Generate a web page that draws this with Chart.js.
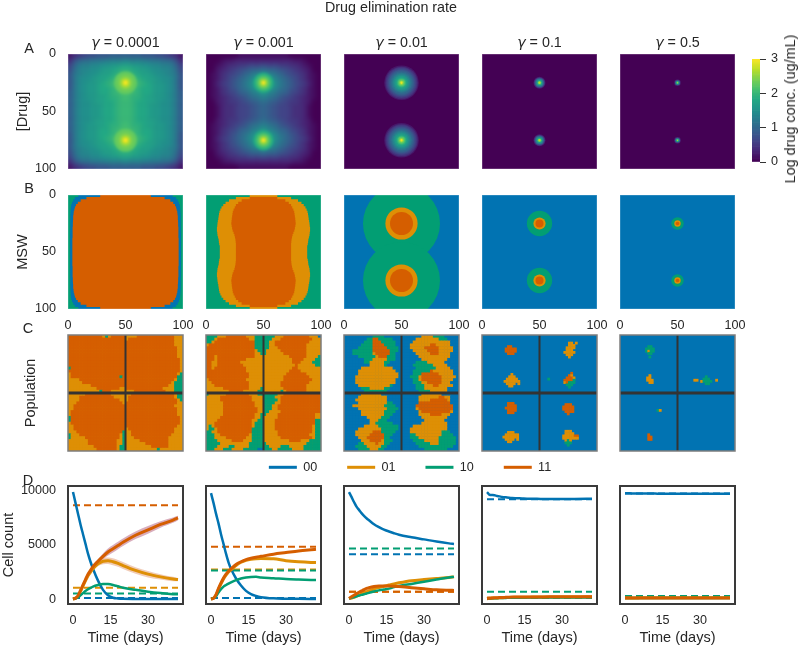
<!DOCTYPE html>
<html>
<head>
<meta charset="utf-8">
<script src="https://cdn.jsdelivr.net/npm/chart.js@4"></script>
<style>
  body { margin: 0; background: #fff; width: 800px; height: 647px; overflow: hidden; position: relative; }
  canvas { position: absolute; }
  .txt { position: absolute; font-family: "Liberation Sans", Arial, sans-serif; color: #262626; white-space: nowrap; transform: translate(-50%, -50%); }
  .txt i { font-family: "DejaVu Sans", sans-serif; }
</style>
</head>
<body>
<script>
// ---- labels
var gammas = ['0.0001', '0.001', '0.01', '0.1', '0.5'];
var genotypes = ['00', '01', '10', '11'];
var gridTicks = [0, 50, 100];
var dayTicks = [0, 15, 30];
var cellTicks = [0, 5000, 10000];
var concTicks = [0, 1, 2, 3];

// ---- row A, log drug conc x10 in base 36, one char per 4x4 block
var drugMap1 = [
  '2456778889999999888776542','48abbcccddddeddddcccbba84','6acddeeffgghhhggffeeddca6','7bdeeffghhijjjihhgffeedb7',
  '8cdeffghhijkl'+'kjihhgffedc8','8ceffghhijklo'+'lkjihhgffec8','8cefgghijkmor'+'omkjihggfec8','8cefgghiijkln'+'lkjiihggfec8',
  '9cefgghiijkll'+'lkjiihggfec9','9cefgghhijjkl'+'kjjihhggfec9','9ceffghhiijkk'+'kjiihhgffec9','9ceffgghiijkk'+'kjiihggffec9',
  '9ceffgghiijkk'+'kjiihggffec9','9ceffgghiijkk'+'kjiihggffec9','9ceffghhiijkk'+'kjiihhgffec9','9cefgghhijjkl'+'kjjihhggfec9',
  '9cefgghiijkll'+'lkjiihggfec9','8cefgghiijkln'+'lkjiihggfec8','8cefgghijkmor'+'omkjihggfec8','8ceffghhijklo'+'lkjihhgffec8',
  '8cdeffghhijkl'+'kjihhgffedc8','7bdeeffghhijjjihhgffeedb7','6acddeeffgghhhggffeeddca6','48abbcccddddeddddcccbba84',
  '2456778889999999888776542'
];
var drugMap2 = [
  '0000000111111'+'111110000000','0001223333333'+'333333221000','0012344556667'+'666554432100','0023456789aab'+'aa9876543200',
  '01245678abdeg'+'edba87654210','0124578abdfil'+'ifdba8754210','0135679acegjq'+'jgeca9765310','0124578abdfhk'+'hfdba8754210',
  '01245679abdeg'+'edba97654210','012345678abcd'+'cba876543210','00234556789ab'+'a98765543200','001344566789a'+'987665443100',
  '001344566789a'+'987665443100','001344566789a'+'987665443100','00234556789ab'+'a98765543200','012345678abcd'+'cba876543210',
  '01245679abdeg'+'edba97654210','0124578abdfhk'+'hfdba8754210','0135679acegjq'+'jgeca9765310','0124578abdfil'+'ifdba8754210',
  '01245678abdeg'+'edba87654210','0023456789aab'+'aa9876543200','0012344556667'+'666554432100','0001223333333'+'333333221000',
  '0000000111111'+'111110000000'
];
// sources of the drug
var sourceX = [50, 50];
var sourceY = [25, 75];
// distance from source, log conc
var peakDist1 = [10, 8, 6, 4.5, 3, 1.5];
var peakConc1 = [2.25, 2.32, 2.42, 2.55, 2.75, 3];
var peakDist2 = [9, 7.5, 6, 4.5, 3, 1.5];
var peakConc2 = [1.8, 1.95, 2.15, 2.35, 2.6, 3];
var peakDist3 = [15, 14, 13, 12, 11, 10, 9, 8, 7, 6, 5, 4, 3, 2, 1];
var peakConc3 = [0.2, 0.4, 0.55, 0.7, 0.85, 1, 1.15, 1.3, 1.45, 1.6, 1.75, 1.95, 2.2, 2.5, 2.9];
var peakDist4 = [5.2, 4.6, 4, 3.4, 2.8, 2.2, 1.6, 1];
var peakConc4 = [0.25, 0.55, 0.85, 1.15, 1.45, 1.8, 2.2, 2.7];
var peakDist5 = [2.8, 2.2, 1.6, 1, 0.5];
var peakConc5 = [0.3, 0.9, 1.5, 2.1, 2.7];

// ---- row B, region edges per 2 unit row
var b1BlueLeft = [9,6,4.5,3.5,2.8,2.5,2.3,2.2,2.1,2,2,2,2,2,1.9,1.9,1.9,1.8,1.8,1.8,1.8,1.8,1.8,1.8,1.8,1.8,1.8,1.8,1.8,1.8,1.8,1.8,1.8,1.9,1.9,1.9,2,2,2,2,2,2.1,2.2,2.3,2.5,2.8,3.5,4.5,6,9];
var b1BlueRight = [91,94,95.5,96.5,97.2,97.5,97.7,97.8,97.9,98,98,98,98,98,98.1,98.1,98.1,98.2,98.2,98.2,98.2,98.2,98.2,98.2,98.2,98.2,98.2,98.2,98.2,98.2,98.2,98.2,98.2,98.1,98.1,98.1,98,98,98,98,98,97.9,97.8,97.7,97.5,97.2,96.5,95.5,94,91];
var b1RedLeft = [28,16,11,8.5,7,6,5.5,5,4.8,4.5,4.5,4.3,4.2,4.2,4,4,4,4,4,3.8,3.8,3.8,3.8,3.8,3.8,3.8,3.8,3.8,3.8,3.8,3.8,4,4,4,4,4,4.2,4.2,4.3,4.5,4.5,4.8,5,5.5,6,7,8.5,11,16,28];
var b1RedRight = [72,84,89,91.5,93,94,94.5,95,95.2,95.5,95.5,95.7,95.8,95.8,96,96,96,96,96,96.2,96.2,96.2,96.2,96.2,96.2,96.2,96.2,96.2,96.2,96.2,96.2,96,96,96,96,96,95.8,95.8,95.7,95.5,95.5,95.2,95,94.5,94,93,91.5,89,84,72];
var b2OrangeLeft = [38,26,20,17,15,13.5,12.5,11.7,11.3,11,10.7,10.3,10,9.8,9.5,9.5,9.8,10,10.5,11,11.2,11.5,12,12,12,12,12,12,11.5,11.2,11,10.5,10,9.8,9.5,9.5,9.8,10,10.3,10.7,11,11.3,11.7,12.5,13.5,15,17,20,26,38];
var b2OrangeRight = [62,74,80,83,85,86.5,87.5,88.3,88.7,89,89.3,89.7,90,90.2,90.5,90.5,90.2,90,89.5,89,88.8,88.5,88,88,88,88,88,88,88.5,88.8,89,89.5,90,90.2,90.5,90.5,90.2,90,89.7,89.3,89,88.7,88.3,87.5,86.5,85,83,80,74,62];
var b2RedLeft = [50,38,31,28,26,25,24,23.3,23,22.7,22.4,22.2,22,22.3,22.7,23.2,24,24.7,25.2,25.6,25.8,26,26,26,26,26,26,26,26,25.8,25.6,25.2,24.7,24,23.2,22.7,22.3,22,22.2,22.4,22.7,23,23.3,24,25,26,28,31,38,50];
var b2RedRight = [50,62,69,72,74,75,76,76.7,77,77.3,77.6,77.8,78,77.7,77.3,76.8,76,75.3,74.8,74.4,74.2,74,74,74,74,74,74,74,74,74.2,74.4,74.8,75.3,76,76.8,77.3,77.7,78,77.8,77.6,77.3,77,76.7,76,75,74,72,69,62,50];
// disc radii around each source for the last three gammas
var b3Radii = [33.5, 14, 10];
var b4Radii = [11, 5.3, 3.5];
var b5Radii = [5.4, 2.8, 1.5];

// ---- row C, one char per 2.5 unit block, wells split by |
var popMap1 = [
  'rrrrrrrrrrrrogorrrrr|oooorrrrrrrrrrrrrooo','rrrrrrrrrrrrrrrrrrrr|orrrrrrrrrrrrrrrrooo','rrrrrrrrrrrrrrrrrrrr|rrrrrrrrrrrrrrrrrooo','rrrrrrrrrrrrrrrrrrrr|rrrrrrrrrrrrrrrrrooo',
  'rrrrrrrrrrrrrrrrrrrr|rrrrrrrrrrrrrrrrrroo','rrrrrrrrrrrrrrrrrrrr|rrrrrrrrrrrrrrrrrroo','rrrrrrrrrrrrrrrrrrrr|rrrrrrrrrrrrrrrrrroo','rrrrrrrrrrrrrrrrrrrr|rrrrrrrrrrrrrrrrrroo',
  'rrrrrrrrrrrrrrrrrrrr|rrrrrrrrrrrrrrrrrrro','rrrrrrrrrrrrrrrrrrrr|rrrrrrrrrrrrrrrrrrro','rrrrrrrrrrrrrrrrrrrr|rrrrrrrrrrrrrrrrrrro','grrrrrrrrrrrrrrrrrrr|rrrrrrrrrrrrrrrrrrro',
  'rrrrrrrrrrrrrrrrrrrr|rrrrrrrrrrrrrrrrrrro','orrrrrrrrrrrrrrrrrrr|rrrrrrrrrrrrrrrrrrog','orrrrrrrrrrrrrrrrrgr|rrrrrrrrrrrrrrrrrrgg','oooorrrrrrrrrrrrrrrr|rrrrrrrrrrrrrrrrrogg',
  'ooooorrrrrrrrrrrrrrr|rrrrrrrrrrrrrrrroggg','oooooooorrrrrrrrrrrr|rrrrrrrrrrrrrrrooggg','oooooooooorrrrrrrroo|rrrrrrrrrrrrrooooggg','ooooooooooogrrrooooo|ooorrrrrrrrrrroooggg',
  'oooooorrrrrrrrrooooo|oorrrrrrrrrrrrrrrogg','oooorrrrrrrrrrrroooo|orrrrrrrrrrrrrrrrogg','oooorrrrrrrrrrrrrroo|orrrrrrrrrrrrrrrrrog','ooorrrrrrrrrrrrrrrro|rrrrrrrrrrrrrrrrrroo',
  'oorrrrrrrrrrrrrrrrrr|rrrrrrrrrrrrrrrrrooo','oorrrrrrrrrrrrrrrrrr|rrrrrrrrrrrrrrrrrroo','orrrrrrrrrrrrrrrrrrr|rrrrrrrrrrrrrrrrrroo','orrrrrrrrrrrrrrrrrrr|rrrrrrrrrrrrrrrrrroo',
  'grrrrrrrrrrrrrrrrrrr|rrrrrrrrrrrrrrrrrrro','grrrrrrrrrrrrrrrrrrr|rrrrrrrrrrrrrrrrrrro','orrrrrrrrrrrrrrrrrrr|rrrrrrrrrrrrrrrrrrro','oorrrrrrrrrrrrrrrrrr|rrrrrrrrrrrrrrrrrroo',
  'oorrrrrrrrrrrrrrrrrr|orrrrrrrrrrrrrrrrooo','ooorrrrrrrrrrrrrrrrg|oorrrrrrrrrrrrrrrooo','gooorrrrrrrrrrrrrrog|oorrrrrrrrrrrrrroooo','gooooorrrrrrrrrrrrog|ooorrrrrrrrrrrrooooo',
  'ooooooorrrrrrrrrroog|ooooorrrrrrrrrrooooo','ooooooorrrrrrrrrroog|ooooooorrrrrrrrooooo','ooooooooorrrrrrrrogg|ooooooooorrrrrrooooo','oooooooooorrrrrrrogg|ooooooooooogoooooooo'
];
var popMap2 = [
  'ggggooorrrrrrroooggg|ggggooorrrrrrrrrooob','gggorrrrrrrrrrrooggg|gggooorrrrrrrrrrrooo','ggorrrrrrrrrrrrrrggg|ggoorrrrrrrrrrrroooo','orrrrrrrrrrrrrrrrggg|ggoorrrrrrrrrrrooooo',
  'rrrrrrrrrrrrrrrrrggg|ggooorrrrrrrrrrooooo','rrrrrrrrrrrrrrrrrogg|gooooorrrrrrrrrooooo','rrrrrrrrrrrrrrrrroog|goooooorrrrrrrrooooo','rrrorrrrrrrrrrrrrooo|ooooooooorrrrrroooog',
  'rrrorrrrrrrrrroooooo|oooooooooorrrroooogg','rroorrrrrrrroooooooo|oooooooooorrrooooggg','rroorrrrrrrrrooooooo|oooooooooooroooooogg','rrorrrrrrrrrrroooooo|oooooooooorroooooooo',
  'rrrrrrrrrrrrrroooooo|ooooooooorrrrooooooo','rrrrrrrrrrrrrrrooooo|oooooooorrrrrrrooooo','rrrrrrrrrrrrrrrooooo|ooooooorrrrrrrrroooo','orrrrrrrrrrrrroooooo|ooooooorrrrrrrrrrooo',
  'oorrrrrrrrrrrrrooooo|oooooorrrrrrrrrroooo','ooorrrrrrrrrrrrooooo|oooooorrrrrrrrrooooo','oooooorrrrrrrrroooog|ooooooorrrrrrrrooooo','oooooooorrrrrooooogg|oooooogorrrrrrrooooo',
  'goooooorrrrrrrrooogg|gggggoorrrrrrrrrrrrr','ooooorrrrrrrrrrroooo|ggggoorrrrrrrrrrrrrr','ooooorrrrrrrrrrroooo|gggggorrrrrrrrrrrrrr','oooooorrrrrrrrrrrooo|ggggoorrrrrrrrrrrrrr',
  'oooooorrrrrrrrrrrooo|gggoorrrrrrrrrrrrrrr','oooooorrrrrrrrrrrroo|gggoorrrrrrrrrrrrrrr','oooooorrrrrrrrrrrroo|ggoooorrrrrrrrrrrrrr','oooooorrrrrrrrrrroog|goooorrrrrrrrrrrrroo',
  'ooooorrrrrrrrrrrroog|ooooorrrrrrrrrrrrroo','oooorrrrrrrrrrrroogg|oooorrrrrrrrrrrrrrgg','ooorrrrrrrrrrrrroggg|oooorrrrrrrrrrrrrrgg','ogorrrrrrrrrrrrroggg|oooorrrrrrrrrrrrrogg',
  'oggorrrrrrrrrrrrgggg|oooorrrrrrrrrrrrrogg','ggoorrrrrrrrrrrrgggg|ooooorrrrrrrrrrrrogg','gggoorrrrrrrrrrogggg|ooooorrrrrrrrrrroogg','gggoooorrrrrrroogggg|oooooorrrrrrrrrrrogg',
  'ggggooooorrrrooogggg|ooooooooorrrrooogggg','gggggooooooooooggggg|gooooooooooooooggggg','ggggooooggoooooggggg|ggoooogggooooogggggg','gggooogggoooogggggbb|gggoogggggoooogggggg'
];
var popMap3 = [
  'bbbbbbbbbbggggbbbbbb|bbbbbbbooooggggbbbbb','bbbbbbbbggrrgggggbbb|bbbbboooooooogggbbbb','bbbbbbbgggrrrgggggbb|bbbbooooooooooooobbb','bbbbbbggggrrrrggggbb|bbbooooooorrooooobbb',
  'bbbbbgggggrrrrrggggb|bbbooooorrrrrooooobb','bbbgggggggrrrrrrgggb|bbbbooooorrrrooooobb','bbbgggggggorrrrrggbb|bbbbbooooorrroooobbb','bbbbbggggggorrrgggbb|bbbbbbooooooooooobbb',
  'bbbbbbbgggooooogggbb|bbbbbbbooooooooobbbb','bbbbbbbggoooooggbbbb|bbbbbggggoooooobbbbb','bbbbbbbbbooooogbbbbb|bbbbgggggggooooobbbb','bbbbbbooooooooooobbb|bbbbbgggggggooooobbb',
  'bbbbbooooooooooooobb|bbbbggggggrooooooobb','bbbbboooooooooooooob|bbbbgggrrrrrrooooobb','bbbbooooooooooooooob|bbbgggorrrrrrrooooob','bbbboooooooooooooobb|bbbbggorrrrrrroooobb',
  'bbbboooooooooooooobb|bbbbgggoorrrrrooobbb','bbbbbooooooooooogbbb|bbbbbgggooorrooooobb','bbbbbbgggoooooggbbbb|bbbbbgggoooooooobbbb','bbbbbbbggggggggbbbbb|bbbbbbggggoooooobbbb',
  'bbbbbbooooooobbbbbbb|bbbbbbbooooooobbbbbb','bbbbboooooooooobbbbb|bbbbbbooooooorroobbb','bbbbooooooooooobbbbb|bbbbbboooorrrrrrobbb','bbbbbooooooooooggbbb|bbbbbbrrrrrrrrrrrbbb',
  'bbboooooooooooggggbb|bbbbbrrrrrrrrrrrrrbb','bbbbbooooooooooggggb|bbbbborrrrrrrrrrrrbb','bbbbbbooooooooggggbb|bbbbbborrrrrrrrrrobb','bbbbbboooooooogggbbb|bbbbbboooorrrrooobbb',
  'bbbbbbbbooooogggbbbb|bbbbbbbooooooooobbbb','bbbbbbbbbooogggbbbbb|bbbbbbbbooooooobbbbb','bbbbbbbbbooggggggbbb|bbbbbbbooooooooobbbb','bbbbbbbooooogggggggb|bbbboooooooooooobbbb',
  'bbbbbooooooooggggggb|bbbooooooooooooobbbb','bbbboooooorrrgggggbb|bbbooooooooooogggbbb','bbbbooooorrrrrgggbbb|bbbggoooooooooggggbb','bbbbbooorrrrrrggbbbb|bbbgggoooooooggggggb',
  'bbbbbbooorrrrogggbbb|bbbbggggoooooggggggb','bbbbbggoooorooggbbbb|bbbbbgggggoooggggggb','bbbbggggoooooggbbbbb|bbbbbbggggggggggggbb','bbbbbggggoooggbbbbbb|bbbbbbbbggggggggbbbb'
];
// small colonies: left, top, rows of 2 unit blocks
var popSpots4 = [
  [20, 9, ['.rr..', 'rrrrr', 'rrrrr', '.rrr.']],
  [71, 6, ['..oo.o', '..ooo.', '.oooo.', '.ooo..', 'ooooo.', '.ooo..', '..o...']],
  [19, 33, ['...o...', '..ooo..', '.ooooo.', 'ooooooo', '.oooo.o', '..oo...']],
  [71, 32, ['...r.', '..ro.', '.rrro', 'rrrrg', 'orggg', '.ggg.', '..g..']],
  [20, 58, ['.rrr.', '.rrrr', 'rrrrr', '.rrrr', '.rrr.']],
  [70, 59, ['.rrr.', 'rrrrr', 'rrrrr', '.rrrr', '..r..']],
  [18, 83, ['..ooo..', '.oooooo', 'ooooooo', '.oooo.o', '..oo...']],
  [70, 82, ['.ooo...', '.oooo..', 'ooooorr', 'ooooooo', '.ogo...', '.ggg...', '..g....']],
  [57, 37, ['g']]
];
var popSpots5 = [
  [22, 9, ['.gg.', 'gggg', 'gogg', '.gg.']],
  [25, 18, ['g']],
  [23, 34, ['.o.', 'oo.', 'ooo', '.oo']],
  [70, 35, ['..g..', '.ggg.', 'ogggg', '..gg.']],
  [64, 38, ['oo']],
  [83, 38, ['o']],
  [32, 64, ['go']],
  [24, 85, ['r.', 'rr', 'rr']]
];
var wellEdge = [0, 100];

// ---- row D, cell counts
var days = [0,1,2,3,4,5,6,7,8,10,12,14,16,18,20,25,30,35,40,42];
var dashDays = [0, 42];
var d1Wt = [9900,8900,7900,6900,6000,5100,4200,3450,2800,1700,850,350,120,50,20,10,5,0,0,0];
var d1Single = [0,80,250,700,1200,1700,2150,2500,2800,3250,3500,3550,3450,3300,3100,2650,2300,2050,1850,1800];
var d1Other = [0,50,150,350,550,750,900,1030,1150,1300,1400,1380,1300,1180,1050,850,680,550,450,430];
var d1Double = [0,80,300,800,1300,1800,2300,2650,3000,3500,3950,4350,4650,4950,5250,5900,6400,6900,7300,7500];
var d1DoubleHi = [0,80,320,850,1380,1900,2420,2800,3170,3700,4220,4680,5000,5300,5600,6250,6750,7200,7550,7700];
var d1DoubleLo = [0,80,280,750,1220,1700,2180,2500,2830,3300,3700,4020,4300,4600,4900,5550,6050,6600,7050,7300];
var d1SingleHi = [0,80,260,720,1250,1750,2250,2650,2950,3450,3780,3850,3780,3620,3420,2950,2600,2300,2050,1950];
var d1SingleLo = [0,80,240,680,1150,1650,2050,2350,2650,3050,3220,3250,3120,2980,2780,2350,2000,1800,1650,1650];
var d1Dash = [90, 1050, 520, 8680];
var d2Wt = [9800,8900,7900,7000,6000,5100,4200,3400,2800,1900,1250,750,450,280,170,60,30,15,10,10];
var d2Single = [0,80,350,900,1400,1850,2200,2500,2700,3100,3400,3580,3680,3730,3750,3720,3550,3450,3390,3380];
var d2Other = [0,60,250,600,900,1150,1300,1430,1550,1750,1900,1990,2040,2050,2000,1930,1850,1800,1760,1750];
var d2Double = [0,60,400,1000,1500,1950,2300,2570,2800,3200,3450,3640,3770,3870,3950,4150,4300,4450,4560,4600];
var d2Dash = [90, 2740, 2650, 4830];
var d3Wt = [9900,9450,8980,8550,8250,7950,7700,7480,7290,6920,6650,6420,6250,6090,5950,5720,5520,5320,5150,5100];
var d3Single = [50,90,150,260,350,450,560,660,750,950,1070,1180,1290,1400,1500,1700,1800,1900,2000,2050];
var d3Other = [50,110,180,250,320,380,440,510,570,700,800,880,960,1100,1200,1400,1600,1800,2000,2050];
var d3Double = [50,200,350,500,630,750,870,980,1050,1150,1200,1210,1210,1190,1150,1050,950,850,810,800];
var d3Dash = [4150, 680, 4680, 680];
var d4Wt = [9900,9650,9620,9600,9540,9500,9450,9420,9400,9350,9330,9310,9290,9280,9270,9250,9250,9260,9280,9290];
var d4Single = [30,50,70,90,100,110,120,130,140,150,160,170,170,180,180,190,190,190,200,200];
var d4Other = [30,50,60,70,80,90,100,100,110,120,120,130,130,130,130,140,140,140,140,140];
var d4Double = [50,70,90,110,120,130,140,150,160,180,180,190,190,190,190,200,200,200,210,210];
var d4Dash = [9230, 120, 680, 120];
var d5Wt = [9790,9780,9780,9770,9770,9770,9770,9760,9760,9760,9760,9750,9750,9750,9750,9750,9750,9740,9740,9740];
var d5Single = [100,100,100,100,100,100,110,110,110,110,110,110,110,110,110,110,110,110,110,110];
var d5Other = [90,90,100,100,100,100,100,100,100,100,100,100,100,100,100,100,100,100,100,100];
var d5Double = [100,100,100,100,100,100,100,100,100,100,100,100,100,100,100,100,100,100,100,100];
var d5Dash = [9770, 130, 280, 130];

// ---- look
var BLUE = '#0173b2', ORANGE = '#de8f05', GREEN = '#029e73', RED = '#d55e00', INK = '#262626';
var stateColor = { b: BLUE, o: ORANGE, g: GREEN, r: RED };
var viridis = [[68,1,84],[72,36,117],[65,68,135],[53,95,141],[42,120,142],[33,145,140],[34,168,132],[68,191,112],[122,209,81],[189,223,38],[253,231,37]];
var colX = [68, 206, 344, 482, 620];
var FONT = '"Liberation Sans", Arial, sans-serif';
var TICK = { family: FONT, size: 12.6 };
var LABEL = { family: FONT, size: 14.5 };

function drugColor(v) {
  var t = Math.min(Math.max(v / 3, 0), 1) * 10, i = Math.min(Math.floor(t), 9), f = t - i;
  var c = viridis[i].map(function(a, k) { return Math.round(a + (viridis[i + 1][k] - a) * f); });
  return 'rgb(' + c.join(',') + ')';
}

Chart.defaults.animation = false;
Chart.defaults.responsive = false;
Chart.defaults.plugins.legend.display = false;
Chart.defaults.plugins.tooltip.enabled = false;
Chart.defaults.events = [];

Chart.register({
  id: 'panelBox',
  beforeDatasetsDraw: function(chart, args, opts) {
    if (!opts.bg) return;
    var a = chart.chartArea;
    chart.ctx.fillStyle = opts.bg;
    chart.ctx.fillRect(a.left, a.top, a.width, a.height);
  },
  // heat map layers get softened like an interpolated image
  afterDatasetDraw: function(chart, args, opts) {
    if (!opts.soft || !opts.soft[args.index]) return;
    var a = chart.chartArea, ctx = chart.ctx;
    ctx.save();
    ctx.beginPath();
    ctx.rect(a.left, a.top, a.width, a.height);
    ctx.clip();
    ctx.filter = 'blur(' + opts.soft[args.index] + 'px)';
    ctx.drawImage(chart.canvas, a.left, a.top, a.width, a.height, a.left, a.top, a.width, a.height);
    ctx.restore();
  },
  afterDatasetsDraw: function(chart, args, opts) {
    if (!opts.frame) return;
    var a = chart.chartArea;
    chart.ctx.strokeStyle = opts.frame;
    chart.ctx.lineWidth = opts.frameWidth;
    chart.ctx.strokeRect(a.left, a.top, a.width, a.height);
  }
});

function axis(o) {
  return {
    type: 'linear', min: o.min, max: o.max, reverse: !!o.reverse, position: o.position, display: !!o.size,
    grid: { display: false, drawTicks: false }, border: { display: false },
    afterBuildTicks: function(s) { s.ticks = (o.ticks || []).map(function(v) { return { value: v }; }); },
    afterFit: function(s) { if (o.horizontal) s.height = o.size || 0; else s.width = o.size || 0; },
    ticks: { display: !!o.ticks, color: INK, font: TICK, padding: o.pad, autoSkip: false, maxRotation: 0, minRotation: 0,
      callback: function(v) { return String(v); } },
    title: { display: !!o.title, text: o.title, color: INK, font: LABEL, padding: o.titlePad || { top: 0, bottom: 0 } }
  };
}

// box: plot rectangle, m: room round it
function addPanel(box, m, xAxis, yAxis, datasets, panelBox, type) {
  var c = document.createElement('canvas');
  c.width = box.w + m.l + m.r;
  c.height = box.h + m.t + m.b;
  c.style.left = (box.x - m.l) + 'px';
  c.style.top = (box.y - m.t) + 'px';
  document.body.appendChild(c);
  datasets.forEach(function(d, i) { d.order = datasets.length - i; });
  return new Chart(c.getContext('2d'), {
    type: type || 'scatter',
    data: { datasets: datasets },
    options: {
      layout: { autoPadding: false, padding: {
        left: yAxis.size ? 0 : m.l, right: m.r,
        top: xAxis.position === 'top' && xAxis.size ? 0 : m.t,
        bottom: xAxis.position === 'bottom' && xAxis.size ? 0 : m.b
      } },
      scales: { x: axis(xAxis), y: axis(yAxis) },
      plugins: { panelBox: panelBox }
    }
  });
}

function blocks(points, cell, px) {
  return {
    data: points.map(function(p) { return { x: p.x, y: p.y }; }),
    pointStyle: 'rect', pointBorderWidth: 0, clip: 0,
    pointRadius: cell * px / Math.SQRT2 + 0.35,
    pointBackgroundColor: points.map(function(p) { return p.c; })
  };
}

function discs(radii, colors, px) {
  var data = [], sizes = [], fills = [];
  radii.forEach(function(r, i) {
    sourceX.forEach(function(sx, k) {
      data.push({ x: sx, y: sourceY[k] });
      sizes.push(r * px);
      fills.push(colors[i]);
    });
  });
  return { data: data, pointStyle: 'circle', pointBorderWidth: 0, clip: 0, pointRadius: sizes, pointBackgroundColor: fills };
}

function rowBands(left, right, color, h) {
  var data = [];
  left.forEach(function(l, i) {
    data.push({ x: l, y: 1 + 2 * i }, { x: right[i], y: 1 + 2 * i }, { x: NaN, y: NaN });
  });
  return { data: data, showLine: true, pointRadius: 0, borderColor: color, borderWidth: h * 2 / 100 + 0.4 };
}

// ---- row A
var drugMaps = [drugMap1, drugMap2, null, null, null];
var drugDist = [peakDist1, peakDist2, peakDist3, peakDist4, peakDist5];
var drugConc = [peakConc1, peakConc2, peakConc3, peakConc4, peakConc5];
var drugSoft = [[2.2, 1], [2.2, 1], [0.7], [0.4], [0.2]];
colX.forEach(function(x, i) {
  var box = { x: x, y: 54, w: 115, h: 115 }, px = box.w / 100, sets = [];
  if (drugMaps[i]) {
    var pts = [];
    drugMaps[i].forEach(function(row, r) {
      row.split('').forEach(function(ch, k) {
        pts.push({ x: 2 + 4 * k, y: 2 + 4 * r, c: drugColor(parseInt(ch, 36) / 10) });
      });
    });
    sets.push(blocks(pts, 4, px));
  }
  sets.push(discs(drugDist[i], drugConc[i].map(drugColor), px));
  addPanel(box, { l: i ? 10 : 54, r: 16, t: 20, b: 20 },
    { min: 0, max: 100, position: 'bottom', horizontal: true },
    { min: 0, max: 100, reverse: true, position: 'left', size: i ? 0 : 54, ticks: i ? null : gridTicks, pad: 12, title: i ? '' : '[Drug]' },
    sets, { bg: '#440154', frame: 'rgba(255,255,255,0.35)', frameWidth: 1, soft: drugSoft[i] });
});

// ---- row B
var mswSets = [
  function(h) { return [rowBands(b1BlueLeft, b1BlueRight, BLUE, h), rowBands(b1RedLeft, b1RedRight, RED, h)]; },
  function(h) { return [rowBands(b2OrangeLeft, b2OrangeRight, ORANGE, h), rowBands(b2RedLeft, b2RedRight, RED, h)]; },
  function(h, px) { return [discs(b3Radii, [GREEN, ORANGE, RED], px)]; },
  function(h, px) { return [discs(b4Radii, [GREEN, ORANGE, RED], px)]; },
  function(h, px) { return [discs(b5Radii, [GREEN, ORANGE, RED], px)]; }
];
colX.forEach(function(x, i) {
  var box = { x: x, y: 195, w: 115, h: 114 };
  addPanel(box, { l: i ? 10 : 54, r: 16, t: 20, b: 20 },
    { min: 0, max: 100, position: 'bottom', horizontal: true },
    { min: 0, max: 100, reverse: true, position: 'left', size: i ? 0 : 54, ticks: i ? null : gridTicks, pad: 12, title: i ? '' : 'MSW' },
    mswSets[i](box.h, box.w / 100), { bg: i < 2 ? GREEN : BLUE, frame: 'rgba(255,255,255,0.3)', frameWidth: 1 });
});

// ---- row C
var popMaps = [popMap1, popMap2, popMap3, null, null];
var popSpots = [null, null, null, popSpots4, popSpots5];
colX.forEach(function(x, i) {
  var box = { x: x, y: 335, w: 115, h: 116 }, px = box.h / 100, pts = [], cell = 2.5;
  if (popMaps[i]) {
    popMaps[i].forEach(function(row, r) {
      row.split('|').forEach(function(part, side) {
        part.split('').forEach(function(ch, k) {
          pts.push({ x: side * 50 + cell * (k + 0.5), y: cell * (r + 0.5), c: stateColor[ch] });
        });
      });
    });
  } else {
    cell = 2;
    popSpots[i].forEach(function(s) {
      s[2].forEach(function(row, r) {
        row.split('').forEach(function(ch, k) {
          if (ch !== '.') pts.push({ x: s[0] + cell * (k + 0.5), y: s[1] + cell * (r + 0.5), c: stateColor[ch] });
        });
      });
    });
  }
  var cross = { type: 'scatter', showLine: true, pointRadius: 0, borderColor: '#333', clip: 0 };
  var sets = [
    blocks(pts, cell, px),
    Object.assign({}, cross, { borderWidth: 2, data: wellEdge.map(function(v) { return { x: 50, y: v }; }) }),
    Object.assign({}, cross, { borderWidth: 3, data: wellEdge.map(function(v) { return { x: v, y: 50 }; }) })
  ];
  addPanel(box, { l: i ? 10 : 46, r: 16, t: 22, b: 6 },
    { min: 0, max: 100, position: 'top', horizontal: true, size: 22, ticks: gridTicks, pad: 2 },
    { min: 0, max: 100, reverse: true, position: 'left', size: i ? 0 : 46, title: i ? '' : 'Population' },
    sets, { bg: i < 2 ? ORANGE : BLUE, frame: '#7d7d7d', frameWidth: 1.5 });
});

// ---- row D
function curve(values, color, width) {
  return { data: days.map(function(t, i) { return { x: t, y: values[i] }; }), borderColor: color, borderWidth: width, pointRadius: 0, cubicInterpolationMode: 'monotone', fill: false };
}
function dash(level, color) {
  return { data: dashDays.map(function(t) { return { x: t, y: level }; }), borderColor: color, borderWidth: 2, borderDash: [7, 4], pointRadius: 0, fill: false };
}
function band(hi, lo, color) {
  var top = curve(hi, 'transparent', 0), low = curve(lo, 'transparent', 0);
  top.fill = '+1';
  top.backgroundColor = color;
  return [top, low];
}
var cellSeries = [
  [d1Wt, d1Single, d1Other, d1Double, d1Dash],
  [d2Wt, d2Single, d2Other, d2Double, d2Dash],
  [d3Wt, d3Single, d3Other, d3Double, d3Dash],
  [d4Wt, d4Single, d4Other, d4Double, d4Dash],
  [d5Wt, d5Single, d5Other, d5Double, d5Dash]
];
var lineColors = [BLUE, ORANGE, GREEN, RED];
colX.forEach(function(x, i) {
  var s = cellSeries[i], sets = [];
  if (i === 0) {
    sets = sets.concat(band(d1DoubleHi, d1DoubleLo, 'rgba(165,60,95,0.42)'));
    sets = sets.concat(band(d1SingleHi, d1SingleLo, 'rgba(215,110,50,0.35)'));
  }
  lineColors.forEach(function(c, k) { sets.push(dash(s[4][k], c)); });
  sets.push(curve(s[0], BLUE, 2.5), curve(s[1], ORANGE, 3), curve(s[2], GREEN, 2.5), curve(s[3], RED, 3));
  addPanel({ x: x, y: 486, w: 115, h: 118 }, { l: i ? 10 : 68, r: 16, t: 20, b: 43 },
    { min: -2, max: 44, position: 'bottom', horizontal: true, size: 43, ticks: dayTicks, pad: 9, title: 'Time (days)', titlePad: { top: 0, bottom: 0 } },
    { min: -461, max: 10461, position: 'left', size: i ? 0 : 68, ticks: i ? null : cellTicks, pad: 12, title: i ? '' : 'Cell count' },
    sets, { frame: '#3a3a3a', frameWidth: 2 }, 'line');
});

// ---- legend
var legendCanvas = document.createElement('canvas');
legendCanvas.width = 400;
legendCanvas.height = 100;
legendCanvas.style.left = '210px';
legendCanvas.style.top = '431px';
document.body.appendChild(legendCanvas);
new Chart(legendCanvas.getContext('2d'), {
  type: 'line',
  data: { labels: [], datasets: genotypes.map(function(g, k) {
    return { label: g, data: [], backgroundColor: lineColors[k], borderColor: lineColors[k], borderWidth: 0 };
  }) },
  options: {
    scales: { x: { display: false }, y: { display: false } },
    plugins: { legend: { display: true, position: 'top', labels: { boxWidth: 28, boxHeight: 3, padding: 30, color: INK, font: TICK } } }
  }
});

// ---- colorbar
var cbarSteps = [];
for (var lv = 0; lv < 3; lv += 0.05) cbarSteps.push(lv);
var cbarCanvas = document.createElement('canvas');
cbarCanvas.width = 48;
cbarCanvas.height = 143;
cbarCanvas.style.left = '752px';
cbarCanvas.style.top = '39px';
document.body.appendChild(cbarCanvas);
new Chart(cbarCanvas.getContext('2d'), {
  type: 'bar',
  data: { labels: [''], datasets: cbarSteps.map(function(v) {
    return { data: [0.05], backgroundColor: drugColor(v + 0.025), barPercentage: 1, categoryPercentage: 1, borderWidth: 0, stack: 'c' };
  }) },
  options: {
    layout: { padding: { top: 20, bottom: 20 } },
    scales: {
      x: { display: false, stacked: true },
      y: {
        min: 0, max: 3, position: 'right', stacked: true,
        afterFit: function(s) { s.width = 40; },
        afterBuildTicks: function(s) { s.ticks = concTicks.map(function(v) { return { value: v }; }); },
        grid: { drawOnChartArea: false, tickLength: 6, tickColor: '#333', tickWidth: 1 },
        border: { display: false },
        ticks: { color: INK, font: TICK, padding: 5 }
      }
    }
  }
});

// ---- page text
function putText(html, x, y, size, rotate) {
  var d = document.createElement('div');
  d.className = 'txt';
  d.innerHTML = html;
  d.style.left = x + 'px';
  d.style.top = y + 'px';
  d.style.fontSize = size + 'px';
  if (rotate) d.style.transform = 'translate(-50%, -50%) rotate(-90deg)';
  document.body.appendChild(d);
}
putText('Drug elimination rate', 391, 7, 14.3);
gammas.forEach(function(g, i) { putText('<i>γ</i> = ' + g, colX[i] + 57.5, 42, 14.3); });
putText('A', 29, 48, 14.5);
putText('B', 29, 188, 14.5);
putText('C', 28, 328, 14.5);
putText('D', 28, 480, 14.5);
putText('Log drug conc. (ug/mL)', 790, 109, 14.4, true);
</script>
</body>
</html>
